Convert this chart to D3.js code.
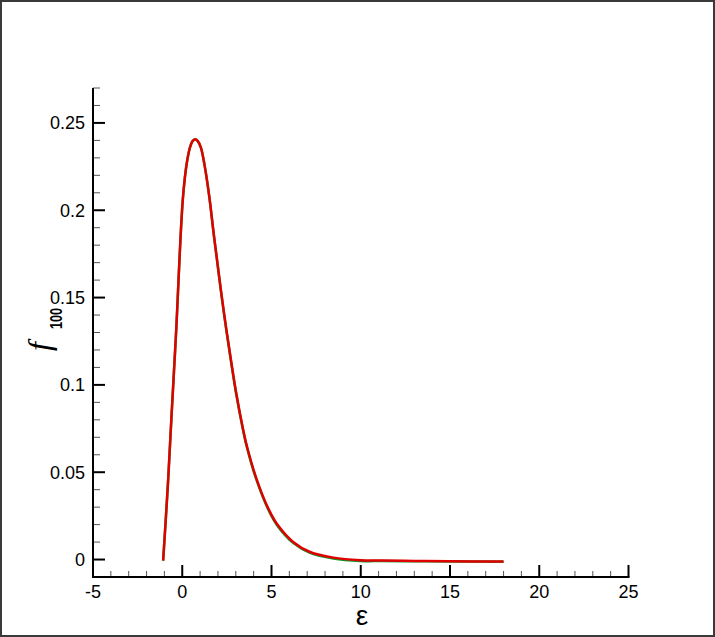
<!DOCTYPE html>
<html>
<head>
<meta charset="utf-8">
<script src="https://cdn.jsdelivr.net/npm/d3@7"></script>
<style>
  body { margin: 0; background: #fff; }
  svg { display: block; }
</style>
</head>
<body>
<div id="chart"></div>
<script>
var width = 715,
  height = 637;

// curve: energy eps vs f_100
var eps = [-1.07, -0.81, -0.61, -0.46, -0.33, -0.18, -0.08, 0.03, 0.15, 0.27, 0.42, 0.57, 0.72,
  0.86, 1.04, 1.24, 1.52, 1.74, 1.97, 2.17, 2.46, 2.74, 3.02, 3.39, 3.62, 4.14, 4.83, 5.33,
  6.23, 7.16, 8.47, 9.97, 11.1, 13, 15, 18];
var fRed = [-0.0006, 0.042, 0.0805, 0.1085, 0.133, 0.1665, 0.1875, 0.206, 0.219, 0.228, 0.2355, 0.2395, 0.2407,
  0.2397, 0.236, 0.2264, 0.2074, 0.1884, 0.17, 0.154, 0.1325, 0.1135, 0.0955, 0.0755, 0.065, 0.0468, 0.029, 0.02,
  0.0099, 0.0043, 0.0011, -0.0004, -0.0006, -0.0008, -0.001, -0.0011];
// green curve sits just under the red one, a hair lower on the tail
var fGreen = [-0.0006, 0.042, 0.0805, 0.1085, 0.133, 0.1665, 0.1875, 0.206, 0.219, 0.228, 0.2355, 0.2395, 0.2407,
  0.2397, 0.236, 0.2264, 0.2074, 0.1884, 0.1695, 0.1534, 0.1319, 0.1129, 0.0949, 0.0749, 0.0644, 0.0462, 0.0284, 0.0194,
  0.0094, 0.0038, 0.0006, -0.0008, -0.0009, -0.001, -0.0011, -0.0012];

var xTicks = [-5, 0, 5, 10, 15, 20, 25];
var yTicks = [0, 0.05, 0.1, 0.15, 0.2, 0.25];
var yTickLabels = ["0", "0.05", "0.1", "0.15", "0.2", "0.25"];

var svg = d3.select("#chart").append("svg")
  .attr("width", width)
  .attr("height", height);

// frame around the whole picture
svg.append("rect")
  .attr("x", 1).attr("y", 1)
  .attr("width", width - 2).attr("height", height - 2)
  .attr("fill", "#fff")
  .attr("stroke", "#3a3a3a")
  .attr("stroke-width", 2);

var x = d3.scaleLinear().domain([-5, 25]).range([93, 628.5]);
var y = d3.scaleLinear().domain([-0.01, 0.27]).range([577, 88]);

var font = "'Liberation Sans', Arial, Helvetica, sans-serif";

// minor ticks
var xMinor = d3.range(-4, 25, 1).filter(function(d) { return d % 5 !== 0; });
var yMinor = d3.range(1, 28, 1).map(function(d) { return d / 100; })
  .filter(function(d) { return Math.round(d * 100) % 5 !== 0; });

svg.selectAll(".xminor")
  .data(xMinor)
  .enter().append("line")
  .attr("x1", function(d) { return x(d); })
  .attr("x2", function(d) { return x(d); })
  .attr("y1", y.range()[0])
  .attr("y2", y.range()[0] - 6)
  .attr("stroke", "#555")
  .attr("stroke-width", 1);

svg.selectAll(".yminor")
  .data(yMinor)
  .enter().append("line")
  .attr("x1", x.range()[0])
  .attr("x2", x.range()[0] + 7)
  .attr("y1", function(d) { return y(d); })
  .attr("y2", function(d) { return y(d); })
  .attr("stroke", "#555")
  .attr("stroke-width", 1);

// major ticks
svg.selectAll(".xmajor")
  .data(xTicks)
  .enter().append("line")
  .attr("x1", function(d) { return x(d); })
  .attr("x2", function(d) { return x(d); })
  .attr("y1", y.range()[0])
  .attr("y2", y.range()[0] - 12)
  .attr("stroke", "#000")
  .attr("stroke-width", 2);

svg.selectAll(".ymajor")
  .data(yTicks)
  .enter().append("line")
  .attr("x1", x.range()[0])
  .attr("x2", x.range()[0] + 12)
  .attr("y1", function(d) { return y(d); })
  .attr("y2", function(d) { return y(d); })
  .attr("stroke", "#000")
  .attr("stroke-width", 2);

// axis lines
svg.append("line")
  .attr("x1", x.range()[0] - 1).attr("x2", x.range()[1] + 1)
  .attr("y1", y.range()[0]).attr("y2", y.range()[0])
  .attr("stroke", "#000").attr("stroke-width", 2);
svg.append("line")
  .attr("x1", x.range()[0]).attr("x2", x.range()[0])
  .attr("y1", y.range()[0] + 1).attr("y2", y.range()[1])
  .attr("stroke", "#000").attr("stroke-width", 2);

// tick labels
svg.selectAll(".xlab")
  .data(xTicks)
  .enter().append("text")
  .attr("x", function(d) { return x(d); })
  .attr("y", 597.5)
  .attr("text-anchor", "middle")
  .attr("font-family", font)
  .attr("font-size", 18)
  .text(function(d) { return d; });

svg.selectAll(".ylab")
  .data(yTicks)
  .enter().append("text")
  .attr("x", 85)
  .attr("y", function(d) { return y(d) + 6.5; })
  .attr("text-anchor", "end")
  .attr("font-family", font)
  .attr("font-size", 18)
  .text(function(d, i) { return yTickLabels[i]; });

// axis titles
svg.append("text")
  .attr("x", 362)
  .attr("y", 625)
  .attr("text-anchor", "middle")
  .attr("font-family", font)
  .attr("font-size", 28)
  .text("ε");

var yTitle = svg.append("g")
  .attr("transform", "rotate(-90)");
yTitle.append("text")
  .attr("x", -351)
  .attr("y", 50)
  .attr("font-family", "'Liberation Serif', 'Times New Roman', serif")
  .attr("font-style", "italic")
  .attr("font-size", 32)
  .text("f");
yTitle.append("text")
  .attr("x", -329)
  .attr("y", 62)
  .attr("font-family", font)
  .attr("font-weight", "bold")
  .attr("font-size", 16)
  .attr("textLength", 21)
  .attr("lengthAdjust", "spacingAndGlyphs")
  .text("100");

// curves
var line = d3.line()
  .x(function(d) { return x(d[0]); })
  .y(function(d) { return y(d[1]); })
  .curve(d3.curveCatmullRom.alpha(0.5));

svg.append("path")
  .datum(d3.zip(eps, fGreen))
  .attr("d", line)
  .attr("fill", "none")
  .attr("stroke", "#0a9a2a")
  .attr("stroke-width", 2.5);

svg.append("path")
  .datum(d3.zip(eps, fRed))
  .attr("d", line)
  .attr("fill", "none")
  .attr("stroke", "#e00000")
  .attr("stroke-width", 2.5);
</script>
</body>
</html>
